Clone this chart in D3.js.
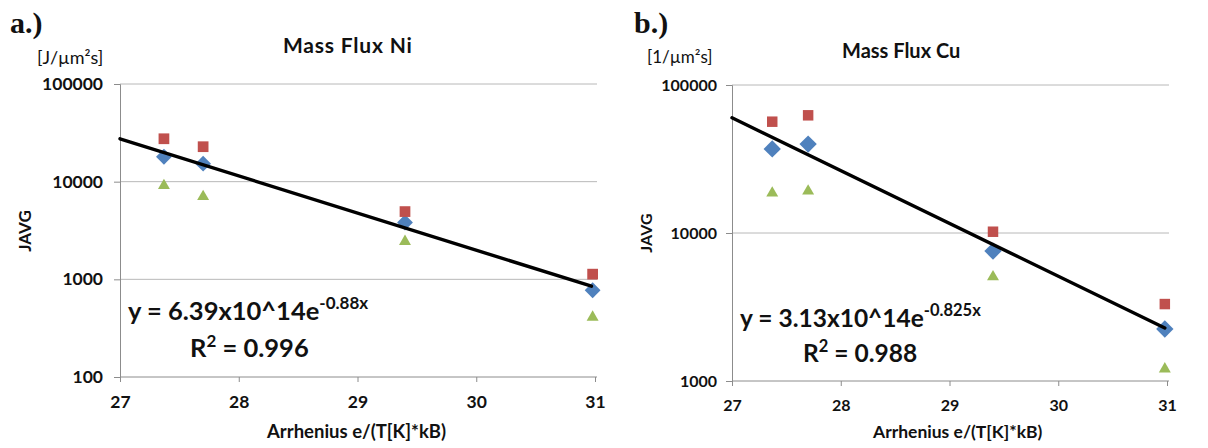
<!DOCTYPE html>
<html><head><meta charset="utf-8">
<script src="https://cdn.jsdelivr.net/npm/d3@7"></script>
<style>
html,body{margin:0;padding:0;background:#fff;}
svg{display:block;font-family:Lato,"Open Sans",sans-serif;}
</style></head>
<body>
<svg id="chart" width="1208" height="448"></svg>
<script>
// ---- Data ----
const xValues = [27.37, 27.70, 29.40, 30.98];
// Panel a: Mass Flux Ni
const niBlue  = [18000, 15300, 3820, 773];
const niRed   = [27500, 22800, 4940, 1130];
const niGreen = [9100, 7030, 2440, 409];
const niTrendX = [27, 30.97];
const niTrendY = [27500, 850];
const niYTicks = [100, 1000, 10000, 100000];
// Panel b: Mass Flux Cu
const cuBlue  = [37000, 39900, 7550, 2245];
const cuRed   = [56500, 62400, 10200, 3310];
const cuGreen = [18600, 19200, 5050, 1205];
const cuTrendX = [27, 30.98];
const cuTrendY = [60100, 2280];
const cuYTicks = [1000, 10000, 100000];
const xTicks = [27, 28, 29, 30, 31];

const svg = d3.select("#chart");
const COLORS = {blue:"#4f81bd", red:"#c0504d", green:"#9bbb59"};

function panel(o){
  const g = svg.append("g");
  const f = o.fs;
  const x = d3.scaleLinear().domain([27,31]).range([o.left, o.right]);
  const y = d3.scaleLog().domain(o.yDomain).range([o.bottom, o.top]);

  // gridlines
  g.selectAll(".grid").data(o.yTicks.slice(1)).join("line")
    .attr("x1", o.left).attr("x2", o.right+2)
    .attr("y1", d=>y(d)).attr("y2", d=>y(d))
    .attr("stroke","#b8b8b8").attr("stroke-width",1);

  // y axis
  const ya = d3.axisLeft(y).tickValues(o.yTicks).tickFormat(d3.format("d")).tickSize(6).tickPadding(o.yPad);
  const yg = g.append("g").attr("transform",`translate(${o.left},0)`).call(ya);
  yg.select(".domain").attr("stroke","#8c8c8c");
  yg.selectAll(".tick line").attr("stroke","#8c8c8c");
  yg.selectAll(".tick text").attr("font-size",f.tick).attr("font-weight","bold").attr("fill","#111").attr("font-family","Lato");

  // x axis
  const xa = d3.axisBottom(x).tickValues(xTicks).tickFormat(d3.format("d")).tickSize(5).tickPadding(14);
  const xg = g.append("g").attr("transform",`translate(0,${o.bottom})`).call(xa);
  xg.select(".domain").attr("stroke","#8c8c8c").attr("d",`M${o.left},0H${o.right+2}`);
  xg.selectAll(".tick line").attr("stroke","#8c8c8c");
  xg.selectAll(".tick text").attr("font-size",f.tick).attr("font-weight","bold").attr("fill","#111").attr("font-family","Lato");

  // markers
  const tri = d3.symbol().type(d3.symbolTriangle).size(o.triSize);
  g.selectAll(".dia").data(o.blue).join("path")
    .attr("d", d3.symbol().type(d3.symbolSquare).size(o.diaSize)())
    .attr("transform",(d,i)=>`translate(${x(xValues[i])},${y(d)}) rotate(45)`)
    .attr("fill",COLORS.blue);
  g.selectAll(".sqr").data(o.red).join("path")
    .attr("d", d3.symbol().type(d3.symbolSquare).size(o.sqSize)())
    .attr("transform",(d,i)=>`translate(${x(xValues[i])},${y(d)})`)
    .attr("fill",COLORS.red);
  g.selectAll(".tri").data(o.green).join("path")
    .attr("d", tri())
    .attr("transform",(d,i)=>`translate(${x(xValues[i])},${y(d)})`)
    .attr("fill",COLORS.green);

  // trend line
  const pts = o.trendX.map((v,i)=>[v,o.trendY[i]]);
  g.append("path").datum(pts)
    .attr("d", d3.line().x(d=>x(d[0])).y(d=>y(d[1])))
    .attr("stroke","#000").attr("stroke-width",3.4).attr("fill","none").attr("stroke-linecap","round");

  // texts
  g.append("text").attr("x",o.letterX).attr("y",33).text(o.letter)
    .attr("font-family","'Liberation Serif','DejaVu Serif',serif").attr("font-weight","bold").attr("font-size",30).attr("fill","#111");
  g.append("text").attr("x",o.unitX).attr("y",o.unitY).text(o.unit)
    .attr("font-size",f.unit).attr("fill","#111");
  g.append("text").attr("x",o.titleX).attr("y",o.titleY).text(o.title)
    .attr("font-size",f.title).attr("font-weight","bold").attr("fill","#111").attr("letter-spacing",f.titleLS);
  g.append("text").attr("transform",`translate(${o.yLabX},${o.yLabY}) rotate(-90)`).attr("text-anchor","middle")
    .attr("dy","0.35em").text("JAVG").attr("font-size",f.ylab).attr("font-weight","bold").attr("fill","#111");
  g.append("text").attr("x",o.xLabX).attr("y",438).text("Arrhenius e/(T[K]*kB)")
    .attr("font-size",f.xlab).attr("font-weight","bold").attr("fill","#111");

  const eq = g.append("text").attr("x",o.eqX).attr("y",o.eqY)
    .attr("font-size",f.eq).attr("font-weight","bold").attr("fill","#111");
  eq.append("tspan").text(o.eqMain);
  eq.append("tspan").attr("dy",-11).attr("font-size",f.sup).text(o.eqExp);
  const r2 = g.append("text").attr("x",o.r2X).attr("y",o.r2Y)
    .attr("font-size",f.eq).attr("font-weight","bold").attr("fill","#111");
  r2.append("tspan").text("R");
  r2.append("tspan").attr("dy",-10).attr("font-size",f.sup).text("2");
  r2.append("tspan").attr("dy",10).text(" = " + o.r2);
}

panel({left:120,right:595,top:84,bottom:377,yDomain:[100,100000],yTicks:niYTicks,
  blue:niBlue,red:niRed,green:niGreen,trendX:niTrendX,trendY:niTrendY,
  diaSize:125,sqSize:115,triSize:62,yPad:11,
  fs:{tick:17.5,unit:18,title:21,titleLS:0.8,ylab:17,xlab:18.5,eq:25.5,sup:17},
  letter:"a.)",letterX:10,unit:"[J/\u00b5m\u00b2s]",unitX:37,unitY:64,title:"Mass Flux Ni",titleX:283,titleY:53,
  yLabX:25,yLabY:231,xLabX:267,
  eqX:128,eqY:320,eqMain:"y = 6.39x10^14e",eqExp:"-0.88x",r2X:190,r2Y:357,r2:"0.996"});

panel({left:732,right:1167,top:85,bottom:381,yDomain:[1000,100000],yTicks:cuYTicks,
  blue:cuBlue,red:cuRed,green:cuGreen,trendX:cuTrendX,trendY:cuTrendY,
  diaSize:150,sqSize:110,triSize:62,yPad:9,
  fs:{tick:16,unit:17,title:20,titleLS:0,ylab:16,xlab:17.5,eq:24.5,sup:16.5},
  letter:"b.)",letterX:634,unit:"[1/\u00b5m\u00b2s]",unitX:647,unitY:63,title:"Mass Flux Cu",titleX:842,titleY:58,
  yLabX:646,yLabY:233,xLabX:873,
  eqX:740,eqY:327,eqMain:"y = 3.13x10^14e",eqExp:"-0.825x",r2X:803,r2Y:362,r2:"0.988"});
</script>
</body></html>
